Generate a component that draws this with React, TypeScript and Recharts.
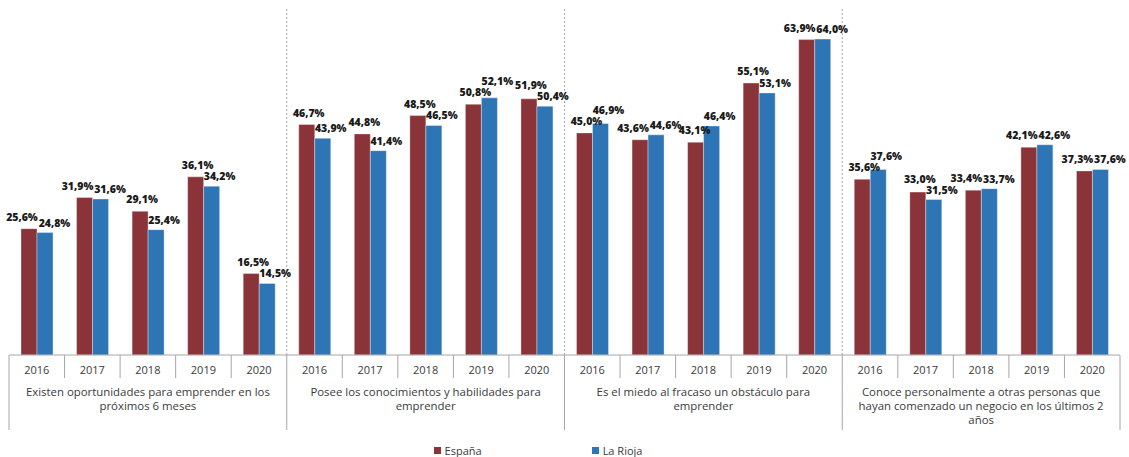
import { BarChart, Bar, XAxis, YAxis, Legend, LabelList } from "recharts";

const years = ["2016", "2017", "2018", "2019", "2020"];

const groupLabels = [
  ["Existen oportunidades para emprender en los", "próximos 6 meses"],
  ["Posee los conocimientos y habilidades para", "emprender"],
  ["Es el miedo al fracaso un obstáculo para", "emprender"],
  [
    "Conoce personalmente a otras personas que",
    "hayan comenzado un negocio en los últimos 2",
    "años",
  ],
];

const espana = [
  25.6, 31.9, 29.1, 36.1, 16.5,
  46.7, 44.8, 48.5, 50.8, 51.9,
  45.0, 43.6, 43.1, 55.1, 63.9,
  35.6, 33.0, 33.4, 42.1, 37.3,
];

const laRioja = [
  24.8, 31.6, 25.4, 34.2, 14.5,
  43.9, 41.4, 46.5, 52.1, 50.4,
  46.9, 44.6, 46.4, 53.1, 64.0,
  37.6, 31.5, 33.7, 42.6, 37.6,
];

const W = 1129;
const H = 457;
const M = { top: 9.5, right: 9, left: 9, bottom: 0 };
const AXIS_H = 75;
const LEGEND_H = 27;
const PLOT_H = H - M.top - M.bottom - AXIS_H - LEGEND_H;
const Y_MAX = 70;
const N = espana.length;
const BAND = (W - M.left - M.right) / N;

const FONT = "'Open Sans', sans-serif";
const RED = "#8a3339";
const BLUE = "#2e75b6";
const LINE = "#a6a6a6";
const TEXT = "#3a3a3a";

const data = espana.map((v, i) => ({
  key: `${Math.floor(i / 5)}-${years[i % 5]}`,
  year: years[i % 5],
  group: Math.floor(i / 5),
  espana: v,
  laRioja: laRioja[i],
}));

const fmt = (v: number) => v.toFixed(1).replace(".", ",") + "%";

function AxisTick(props: any) {
  const { x, y, index } = props;
  const row = data[index];
  const left = x - BAND / 2;
  const right = x + BAND / 2;
  const first = index % 5 === 0;
  return (
    <g>
      <line x1={left} x2={left} y1={y} y2={y + (first ? AXIS_H : 23)} stroke={LINE} />
      {first && index > 0 && (
        <line
          x1={left}
          x2={left}
          y1={y}
          y2={y - PLOT_H - 1}
          stroke={LINE}
          strokeDasharray="2 2"
        />
      )}
      {index === N - 1 && (
        <line x1={right} x2={right} y1={y} y2={y + AXIS_H} stroke={LINE} />
      )}
      <text x={x} y={y + 19} textAnchor="middle" fontSize={11} fontFamily={FONT} fill={TEXT}>
        {row.year}
      </text>
      {index % 5 === 2 &&
        groupLabels[row.group].map((line, i) => (
          <text
            key={i}
            x={x}
            y={y + 41 + i * 14}
            textAnchor="middle"
            fontSize={11.4}
            fontFamily={FONT}
            fill={TEXT}
          >
            {line}
          </text>
        ))}
    </g>
  );
}

const GAP_E = 8;
const GAP_R = 6;
const MIN_SEP = 11;

// nearly equal values: labels go sideways; otherwise lift the higher label clear of the other
const makeLabel = (series: "espana" | "laRioja") => (props: any) => {
  const { x, y, width, value, index } = props;
  const row = data[index];
  const diff = row.espana - row.laRioja;
  const close = Math.abs(diff) < 1.2;
  let dx = series === "espana" ? (close ? -7 : 2) : close ? 9.5 : 8;
  if (series === "espana" && diff < -2.1) dx = -1;
  const px = PLOT_H / Y_MAX;
  const baseE = -row.espana * px - GAP_E;
  const baseR = -row.laRioja * px - GAP_R;
  let lift = 0;
  if (!close && Math.abs(baseE - baseR) < MIN_SEP) {
    if (series === "espana" && baseE < baseR) lift = MIN_SEP - (baseR - baseE);
    if (series === "laRioja" && baseR < baseE) lift = MIN_SEP - (baseE - baseR);
  }
  const gap = series === "espana" ? GAP_E : GAP_R;
  return (
    <text
      x={x + width / 2 + dx}
      y={y - gap - lift}
      textAnchor="middle"
      fontSize={10.5}
      fontWeight={800}
      fontFamily={FONT}
      fill="#1a1a1a"
    >
      {fmt(value)}
    </text>
  );
};

function LegendBox() {
  const items = [
    { name: "España", color: RED },
    { name: "La Rioja", color: BLUE },
  ];
  return (
    <div
      style={{
        height: LEGEND_H,
        display: "flex",
        justifyContent: "center",
        alignItems: "flex-end",
        gap: 110,
        paddingRight: 53,
        boxSizing: "border-box",
        paddingBottom: 1,
        fontFamily: FONT,
        fontSize: 11,
        color: TEXT,
      }}
    >
      {items.map((it) => (
        <div key={it.name} style={{ display: "flex", alignItems: "center", gap: 4, height: 12 }}>
          <span style={{ width: 7, height: 7, background: it.color, display: "inline-block" }} />
          <span>{it.name}</span>
        </div>
      ))}
    </div>
  );
}

export default function App() {
  return (
    <div style={{ position: "absolute", left: 0, top: 0, width: W, height: H, background: "#fff" }}>
      <BarChart width={W} height={H} data={data} margin={M} barGap={0} barSize={16}>
        <XAxis
          dataKey="key"
          interval={0}
          height={AXIS_H}
          tickLine={false}
          tickSize={0}
          tickMargin={0}
          axisLine={{ stroke: LINE }}
          tick={<AxisTick />}
        />
        <YAxis hide domain={[0, Y_MAX]} />
        <Legend verticalAlign="bottom" height={LEGEND_H} content={<LegendBox />} />
        <Bar dataKey="espana" name="España" fill={RED} stroke="#ffffff" strokeOpacity={0.35} isAnimationActive={false}>
          <LabelList dataKey="espana" content={makeLabel("espana")} />
        </Bar>
        <Bar dataKey="laRioja" name="La Rioja" fill={BLUE} stroke="#ffffff" strokeOpacity={0.35} isAnimationActive={false}>
          <LabelList dataKey="laRioja" content={makeLabel("laRioja")} />
        </Bar>
      </BarChart>
    </div>
  );
}
